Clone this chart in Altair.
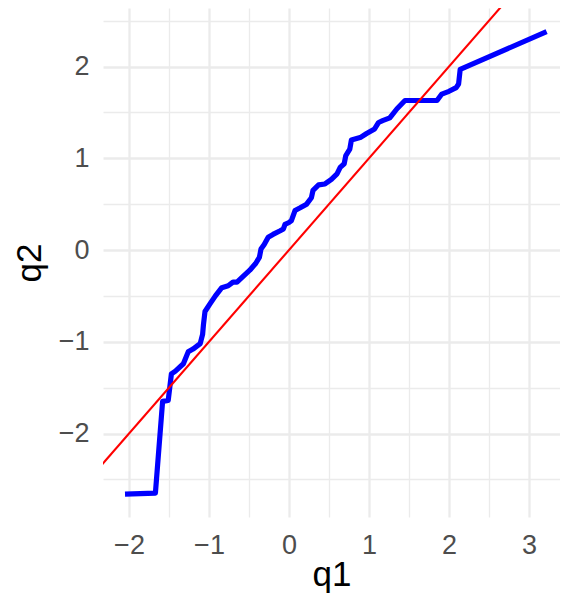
import altair as alt
import pandas as pd

# Sample quantiles
q1 = [-2.05, -1.67, -1.58, -1.51, -1.47, -1.42, -1.32, -1.26, -1.20, -1.11,
      -1.08, -1.07, -1.05, -0.99, -0.92, -0.84, -0.76, -0.70, -0.65, -0.59,
      -0.49, -0.42, -0.37, -0.35, -0.31, -0.26, -0.20, -0.11, -0.07, -0.05,
      0.00, 0.03, 0.075, 0.14, 0.22, 0.28, 0.30, 0.37, 0.45, 0.53,
      0.60, 0.64, 0.69, 0.71, 0.76, 0.78, 0.90, 0.97, 1.07, 1.12,
      1.17, 1.26, 1.35, 1.45, 1.85, 1.91, 2.00, 2.09, 2.12, 2.14, 3.22]
q2 = [-2.66, -2.65, -1.65, -1.64, -1.35, -1.32, -1.24, -1.11, -1.08, -1.02,
      -0.92, -0.82, -0.67, -0.59, -0.50, -0.41, -0.39, -0.35, -0.35, -0.30,
      -0.22, -0.15, -0.08, 0.01, 0.06, 0.14, 0.17, 0.21, 0.23, 0.28,
      0.30, 0.32, 0.43, 0.46, 0.50, 0.57, 0.65, 0.71, 0.72, 0.77,
      0.83, 0.90, 0.94, 1.03, 1.10, 1.20, 1.23, 1.27, 1.32, 1.39,
      1.41, 1.44, 1.54, 1.63, 1.63, 1.70, 1.73, 1.77, 1.81, 1.97, 2.38]

# Reference line y = x
ref_x = [-2.4, 2.7]
ref_y = [-2.4, 2.7]

x_domain = [-2.325, 3.3875]
y_domain = [-2.91, 2.638]
x_grid = [-2, -1.5, -1, -0.5, 0, 0.5, 1, 1.5, 2, 2.5, 3]
y_grid = [-2.5, -2, -1.5, -1, -0.5, 0, 0.5, 1, 1.5, 2, 2.5]

df = pd.DataFrame({"q1": q1, "q2": q2, "i": list(range(len(q1)))})
ref = pd.DataFrame({"q1": ref_x, "q2": ref_y})

label_expr = "datum.value % 1 === 0 ? format(datum.value, 'd') : ''"
grid_w = {"condition": {"test": "datum.value % 1 === 0", "value": 2.3}, "value": 1.3}

x_axis = alt.Axis(values=x_grid, labelExpr=label_expr, gridWidth=grid_w,
                  gridColor="#EBEBEB", domain=False, ticks=False, tickSize=0,
                  labelFontSize=27, labelColor="#4D4D4D", labelFont="Liberation Sans",
                  labelBaseline="alphabetic", labelPadding=36, labelFlush=False,
                  title="q1", titleFontSize=35, titleColor="#000000",
                  titleFont="Liberation Sans", titleFontWeight="normal",
                  titleBaseline="alphabetic", titleY=68)
y_axis = alt.Axis(values=y_grid, labelExpr=label_expr, gridWidth=grid_w,
                  gridColor="#EBEBEB", domain=False, ticks=False, tickSize=0,
                  labelFontSize=27, labelColor="#4D4D4D", labelFont="Liberation Sans",
                  labelBaseline="middle", labelPadding=14, labelFlush=False,
                  title="q2", titleFontSize=35, titleColor="#000000",
                  titleFont="Liberation Sans", titleFontWeight="normal",
                  titleBaseline="alphabetic", titleX=-63, titleAngle=270)

xs = alt.Scale(domain=x_domain, nice=False, zero=False)
ys = alt.Scale(domain=y_domain, nice=False, zero=False)

blue = alt.Chart(df).mark_line(color="#0000FF", strokeWidth=5.2, strokeJoin="round",
                                clip=True).encode(
    x=alt.X("q1:Q", scale=xs, axis=x_axis),
    y=alt.Y("q2:Q", scale=ys, axis=y_axis),
    order="i:Q",
)
red = alt.Chart(ref).mark_line(color="#FF0000", strokeWidth=2.1, clip=True).encode(
    x=alt.X("q1:Q", scale=xs),
    y=alt.Y("q2:Q", scale=ys),
)

chart = alt.layer(blue, red).properties(
    width=457, height=509,
    autosize=alt.AutoSizeParams(type="none"),
    padding={"left": 95, "top": 0, "right": 0, "bottom": 76},
).configure_view(stroke="transparent")

chart.save("out.html", embed_options={"renderer": "svg", "actions": False})
